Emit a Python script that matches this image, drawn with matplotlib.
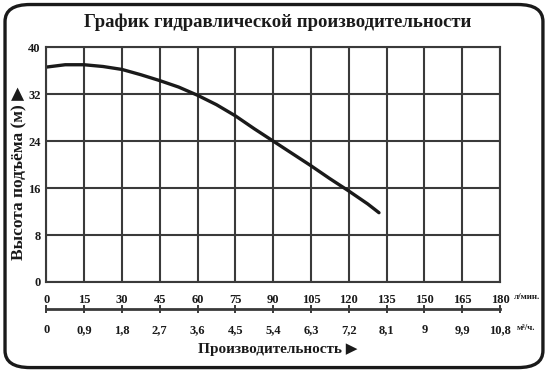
import matplotlib
matplotlib.use("Agg")
import matplotlib.pyplot as plt
from matplotlib.patches import FancyBboxPatch

SERIF = ["Liberation Serif", "DejaVu Serif"]
INK = "#1a1a1a"
GRID = "#3a3a3a"

# flow, l/min -> head, m
flow_lpm = [0, 7.5, 15, 22.5, 30, 37.5, 45, 52.5, 60, 67.5, 75, 82.5,
            90, 97.5, 105, 112.5, 120, 127.5, 132]
head_m = [36.6, 37.0, 37.0, 36.7, 36.2, 35.3, 34.3, 33.2, 31.8, 30.2, 28.3, 26.1,
          24.0, 21.9, 19.8, 17.6, 15.5, 13.3, 11.8]

x_ticks = list(range(0, 181, 15))
y_ticks = [0, 8, 16, 24, 32, 40]
m3h_labels = ["0", "0,9", "1,8", "2,7", "3,6", "4,5", "5,4", "6,3", "7,2",
              "8,1", "9", "9,9", "10,8"]

fig = plt.figure(figsize=(5.58, 3.77), dpi=100, facecolor="white")

# rounded outer frame
frame = FancyBboxPatch((0.009, 0.025), 0.964, 0.963,
                       boxstyle="round,pad=0,rounding_size=0.045",
                       transform=fig.transFigure, fill=False,
                       edgecolor=INK, linewidth=2.4)
fig.patches.append(frame)

ax = fig.add_axes([0.083, 0.252, 0.813, 0.623])
ax.set_xlim(0, 180)
ax.set_ylim(0, 40)
ax.set_xticks(x_ticks)
ax.set_yticks(y_ticks)
ax.grid(True, color=GRID, linewidth=1.5)
for s in ax.spines.values():
    s.set_color(GRID)
    s.set_linewidth(1.5)
ax.tick_params(axis="x", length=0, pad=9, labelsize=9, colors=INK)
ax.tick_params(axis="y", length=0, pad=4, labelsize=9, colors=INK)
for lab in ax.get_xticklabels() + ax.get_yticklabels():
    lab.set_family(SERIF)
    lab.set_fontweight("bold")

ax.plot(flow_lpm, head_m, color=INK, linewidth=2.4,
        solid_capstyle="round", solid_joinstyle="round")

# second flow scale, m3/h
sec = ax.secondary_xaxis(-0.115, functions=(lambda q: q * 0.06, lambda q: q / 0.06))
sec.set_xticks([t * 0.06 for t in x_ticks])
sec.set_xticklabels(m3h_labels)
sec.spines["bottom"].set_color(GRID)
sec.spines["bottom"].set_linewidth(2.0)
sec.tick_params(direction="inout", length=6, width=1.2, colors=INK, pad=8, labelsize=9)
for lab in sec.get_xticklabels():
    lab.set_family(SERIF)
    lab.set_fontweight("bold")

ax.text(1.031, -0.065, "л/мин.", transform=ax.transAxes, fontsize=6.5,
        family=SERIF, fontweight="bold", va="center", ha="left", color=INK)
ax.text(1.036, -0.195, "м³/ч.", transform=ax.transAxes, fontsize=6.5,
        family=SERIF, fontweight="bold", va="center", ha="left", color=INK)

fig.text(0.497, 0.942, "График гидравлической производительности",
         ha="center", va="center", fontsize=13.5, family=SERIF,
         fontweight="bold", color=INK)
fig.text(0.034, 0.54, "Высота подъёма (м) ▶", rotation=90,
         ha="center", va="center", fontsize=12.5, family=SERIF + ["DejaVu Sans"],
         fontweight="bold", color=INK)
fig.text(0.497, 0.072, "Производительность ▶", ha="center", va="center",
         fontsize=11, family=SERIF + ["DejaVu Sans"], fontweight="bold", color=INK)

fig.savefig("out.png", dpi=100, facecolor="white")
